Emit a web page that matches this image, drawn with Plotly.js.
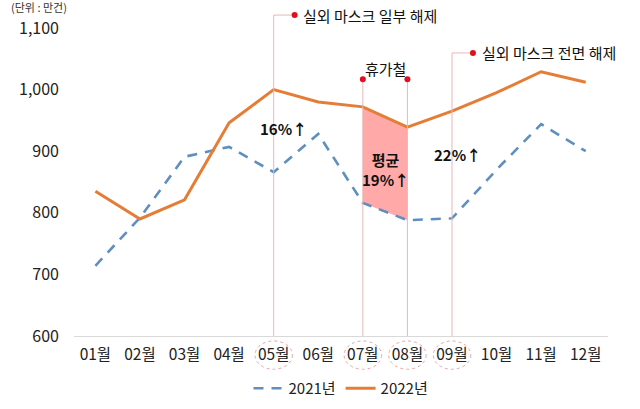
<!DOCTYPE html>
<html>
<head>
<meta charset="utf-8">
<script src="https://cdn.plot.ly/plotly-3.0.1.min.js"></script>
<style>
  body { margin: 0; background: white; }
  #chart { width: 640px; height: 409px; }
</style>
</head>
<body>
<div id="chart"></div>
<script>
// data (unit: 만건)
var months = ['01월','02월','03월','04월','05월','06월','07월','08월','09월','10월','11월','12월'];
var y2021 = [714, 792, 891, 907, 866, 928, 816, 788, 791, 870, 944, 900];
var y2022 = [835, 790, 821, 946, 1000, 980, 972, 939, 965, 995, 1029, 1012];
var yTicks = [600, 700, 800, 900, 1000, 1100];

// marked months
var partLift = '05월', fullLift = '09월';
var holidayFrom = '07월', holidayTo = '08월';
var circled = ['05월', '07월', '08월', '09월'];

var font = 'Noto Sans CJK KR, Noto Sans, sans-serif';
var blue = '#5f8fbf', orange = '#e57d36', pink = '#e9b7b7', red = '#e0101e';

var i7 = months.indexOf(holidayFrom), i8 = months.indexOf(holidayTo);

var traces = [
  // holiday band between the two lines
  {
    x: months.slice(i7, i8 + 1), y: y2021.slice(i7, i8 + 1),
    mode: 'lines', line: {width: 0}, showlegend: false, hoverinfo: 'skip'
  },
  {
    x: months.slice(i7, i8 + 1), y: y2022.slice(i7, i8 + 1),
    mode: 'lines', line: {width: 0}, fill: 'tonexty',
    fillcolor: 'rgba(255,140,140,0.75)', showlegend: false, hoverinfo: 'skip'
  },
  {
    x: months, y: y2021, name: '2021년', mode: 'lines',
    line: {color: blue, width: 2.6, dash: '10px,8px'}
  },
  {
    x: months, y: y2022, name: '2022년', mode: 'lines',
    line: {color: orange, width: 3}
  }
];

var shapes = [];
function vline(m, top) {
  var i = months.indexOf(m);
  shapes.push({type: 'line', xref: 'x', yref: 'paper', x0: i, x1: i, y0: 0, y1: top,
    line: {color: pink, width: 1}});
}
function dot(xv, yv) {
  shapes.push({type: 'circle', xref: 'x', yref: 'paper', xsizemode: 'pixel', ysizemode: 'pixel',
    xanchor: xv, yanchor: yv, x0: -3, x1: 3, y0: -3, y1: 3,
    fillcolor: red, line: {width: 0}});
}
// 05월 partial lift
var iP = months.indexOf(partLift), topP = 1.042;
vline(partLift, topP);
shapes.push({type: 'line', xref: 'x', yref: 'paper', x0: iP, x1: iP + 0.42, y0: topP, y1: topP,
  line: {color: pink, width: 1}});
dot(iP + 0.47, topP);
// 09월 full lift
var iF = months.indexOf(fullLift), topF = 0.919;
vline(fullLift, topF);
shapes.push({type: 'line', xref: 'x', yref: 'paper', x0: iF, x1: iF + 0.42, y0: topF, y1: topF,
  line: {color: pink, width: 1}});
dot(iF + 0.47, topF);
// holiday
var topH = 0.834;
vline(holidayFrom, topH);
vline(holidayTo, topH);
dot(i7, topH);
dot(i8, topH);
// dotted ellipses around tick labels
circled.forEach(function (m) {
  var i = months.indexOf(m);
  shapes.push({type: 'circle', xref: 'x', yref: 'paper', x0: i - 0.42, x1: i + 0.42,
    y0: -0.108, y1: -0.016, line: {color: '#e6a7a7', width: 1, dash: 'dot'}});
});

var ann = function (text, x, y, opts) {
  var a = {text: text, x: x, y: y, xref: 'x', yref: 'y', showarrow: false,
    font: {family: font, size: 15, color: '#111'}};
  for (var k in opts) a[k] = opts[k];
  return a;
};

var layout = {
  width: 640, height: 409,
  margin: {l: 74, r: 32, t: 28, b: 73},
  paper_bgcolor: 'white', plot_bgcolor: 'white',
  font: {family: font, color: '#222'},
  showlegend: true,
  legend: {orientation: 'h', x: 0.5, xanchor: 'center', yref: 'container', y: 0.05, yanchor: 'middle',
    font: {family: font, size: 15, color: '#222'}, traceorder: 'normal'},
  xaxis: {
    type: 'category', categoryorder: 'array', categoryarray: months,
    range: [-0.48, 11.5], automargin: false,
    showgrid: false, zeroline: false,
    showline: true, linecolor: '#d9d9d9', linewidth: 1,
    ticks: '', ticklabelstandoff: 4,
    tickfont: {family: font, size: 15.5, color: '#222'}
  },
  yaxis: {
    range: [600, 1100], tickvals: yTicks, tickformat: ',', automargin: false,
    showgrid: false, zeroline: false, showline: false,
    ticks: '', ticklabelstandoff: 14,
    tickfont: {family: font, size: 16, color: '#222'}
  },
  shapes: shapes,
  annotations: [
    {text: '(단위 : 만건)', xref: 'paper', yref: 'paper', x: -0.12, y: 1.038,
      xanchor: 'left', yanchor: 'bottom', showarrow: false, borderpad: 0,
      font: {family: font, size: 11, color: '#333'}},
    {text: '실외 마스크 일부 해제', xref: 'x', yref: 'paper', x: iP + 0.62, y: topP,
      xanchor: 'left', yanchor: 'middle', showarrow: false,
      font: {family: font, size: 15, color: '#111'}},
    {text: '실외 마스크 전면 해제', xref: 'x', yref: 'paper', x: iF + 0.62, y: topF,
      xanchor: 'left', yanchor: 'middle', showarrow: false,
      font: {family: font, size: 15, color: '#111'}},
    {text: '휴가철', xref: 'x', yref: 'paper', x: (i7 + i8) / 2, y: 0.87,
      xanchor: 'center', yanchor: 'middle', showarrow: false,
      font: {family: font, size: 15, color: '#111'}},
    ann('<b>16%↑</b>', 4.22, 937),
    ann('<b>평균<br>19%↑</b>', 6.5, 870),
    ann('<b>22%↑</b>', 8.13, 894)
  ]
};

Plotly.newPlot('chart', traces, layout, {displayModeBar: false, staticPlot: true});
</script>
</body>
</html>
